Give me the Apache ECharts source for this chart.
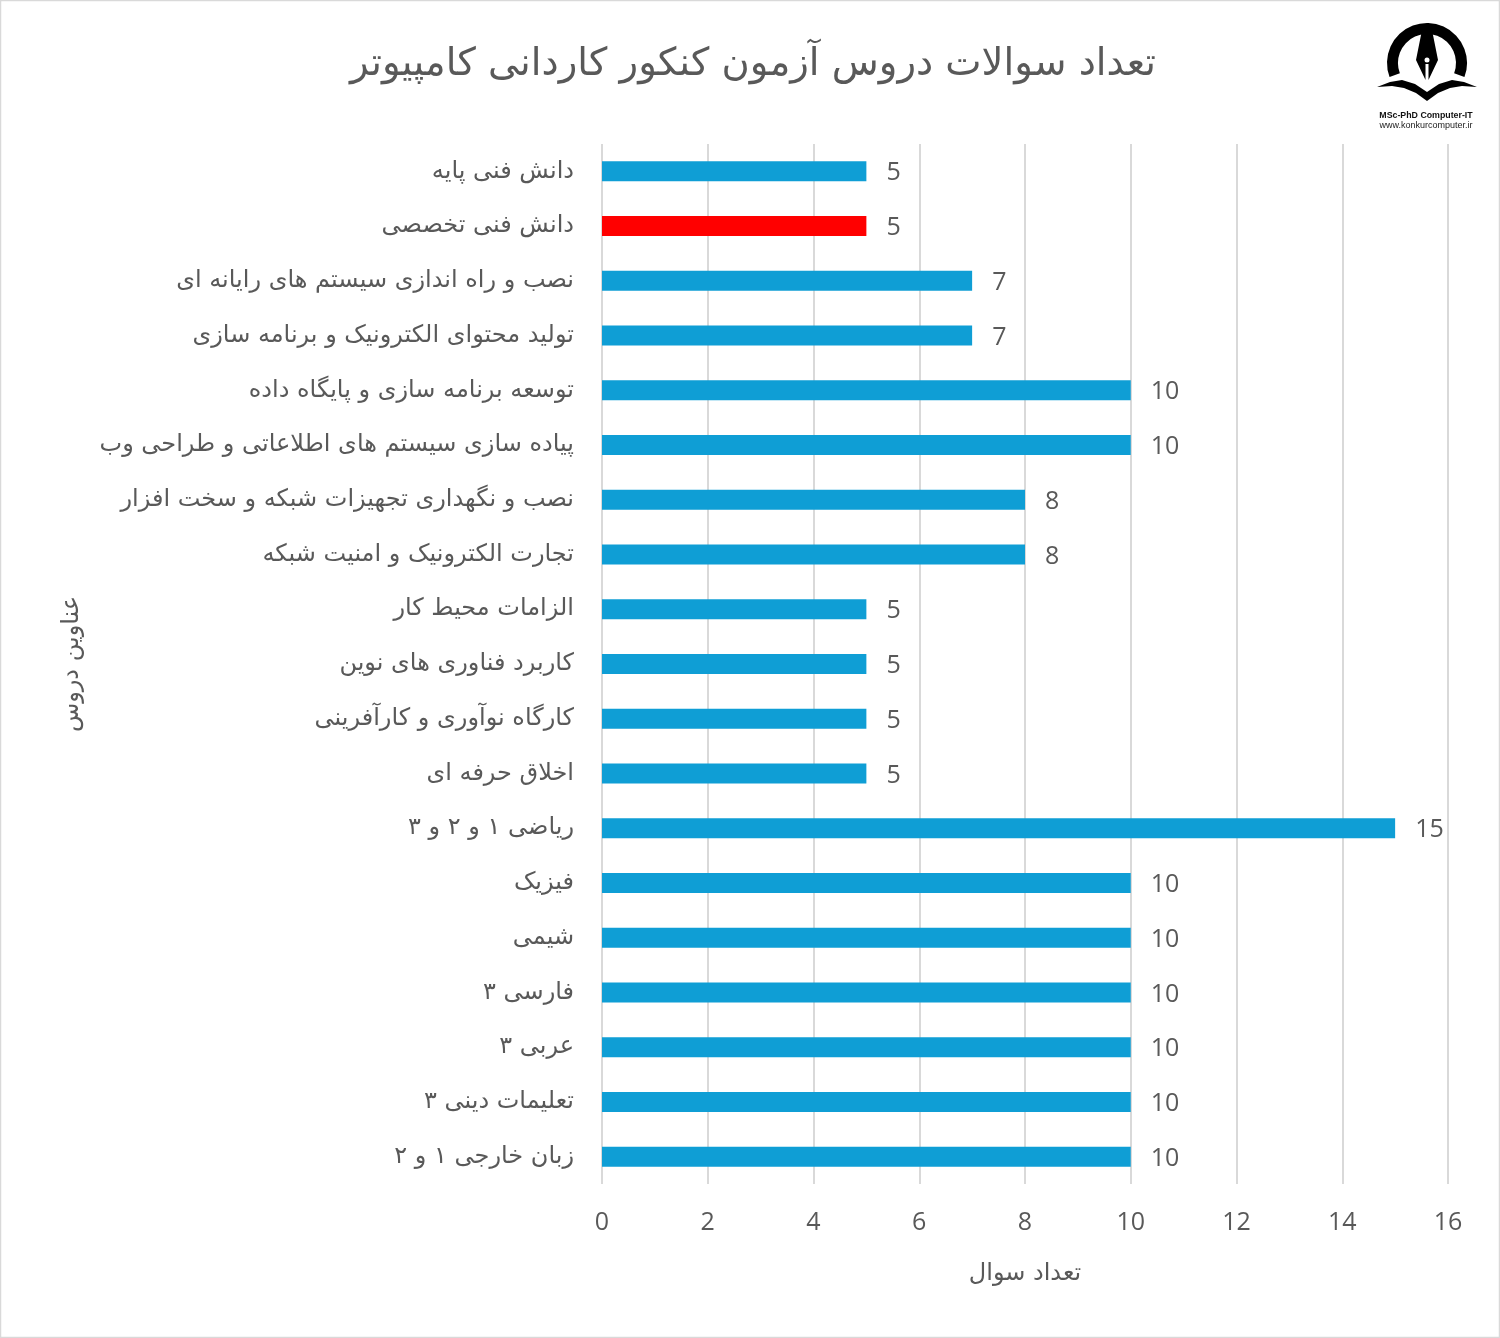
<!DOCTYPE html>
<html>
<head>
<meta charset="utf-8">
<style>
html, body { margin: 0; padding: 0; background: #fff; }
#chart { width: 1500px; height: 1338px; }
</style>
<script src="https://cdn.jsdelivr.net/npm/echarts@6/dist/echarts.min.js"></script>
</head>
<body>
<div id="chart"></div>
<script>
var categories = [
  'دانش فنی پایه', 'دانش فنی تخصصی', 'نصب و راه اندازی سیستم های رایانه ای',
  'تولید محتوای الکترونیک و برنامه سازی', 'توسعه برنامه سازی و پایگاه داده',
  'پیاده سازی سیستم های اطلاعاتی و طراحی وب', 'نصب و نگهداری تجهیزات شبکه و سخت افزار',
  'تجارت الکترونیک و امنیت شبکه', 'الزامات محیط کار', 'کاربرد فناوری های نوین',
  'کارگاه نوآوری و کارآفرینی', 'اخلاق حرفه ای', 'ریاضی ۱ و ۲ و ۳', 'فیزیک', 'شیمی',
  'فارسی ۳', 'عربی ۳', 'تعلیمات دینی ۳', 'زبان خارجی ۱ و ۲'
];
var values = [5, 5, 7, 7, 10, 10, 8, 8, 5, 5, 5, 5, 15, 10, 10, 10, 10, 10, 10];
var highlightIndex = 1;

var font = '"DejaVu Sans", sans-serif';
var latinFont = '"Open Sans", "Liberation Sans", sans-serif';
var grey = '#595959';

var chart = echarts.init(document.getElementById('chart'));
chart.setOption({
  backgroundColor: '#fff',
  animation: false,
  title: {
    text: 'تعداد سوالات دروس آزمون کنکور کاردانی کامپیوتر',
    left: 748, top: 60, textAlign: 'center', textVerticalAlign: 'middle',
    textStyle: { fontFamily: font, fontSize: 38.5, fontWeight: 'normal', color: grey }
  },
  grid: { left: 602, right: 52, top: 144, bottom: 154 },
  xAxis: {
    type: 'value', min: 0, max: 16, interval: 2,
    position: 'bottom',
    name: 'تعداد سوال', nameLocation: 'middle', nameGap: 78,
    nameTextStyle: { fontFamily: font, fontSize: 24, color: grey },
    axisLine: { show: false }, axisTick: { show: false },
    axisLabel: { fontFamily: latinFont, fontSize: 25, color: grey, margin: 26 },
    splitLine: { show: true, lineStyle: { color: '#d9d9d9', width: 2 } }
  },
  yAxis: {
    type: 'category', data: categories, inverse: true,
    name: 'عناوین دروس', nameLocation: 'middle', nameGap: 518, nameRotate: 90,
    nameTextStyle: { fontFamily: font, fontSize: 24, color: grey },
    axisLine: { show: false }, axisTick: { show: false },
    axisLabel: { fontFamily: font, fontSize: 24, color: grey, margin: 28, interval: 0 }
  },
  series: [{
    type: 'bar',
    data: values.map(function (v, i) {
      return { value: v, itemStyle: { color: i === highlightIndex ? '#ff0000' : '#0f9ed5' } };
    }),
    barWidth: 20,
    label: {
      show: true, position: 'right', distance: 20, offset: [0, 2],
      fontFamily: latinFont, fontSize: 25, color: grey
    }
  }],
  graphic: [
    { type: 'rect', silent: true, shape: { x: 0.5, y: 0.5, width: 1499, height: 1337 }, style: { fill: 'none', stroke: '#d9d9d9', lineWidth: 1.5 } },
    // logo: ring, nib, book
    { type: 'sector', silent: true, shape: { cx: 1427, cy: 63, r0: 29, r: 40, startAngle: Math.PI - 0.36, endAngle: 0.36, clockwise: true }, style: { fill: '#000' } },
    { type: 'polygon', silent: true, shape: { points: [[1422, 30], [1432, 30], [1438, 60], [1428.5, 80], [1428.5, 64], [1425.5, 64], [1425.5, 80], [1416, 60]] }, style: { fill: '#000' } },
    { type: 'circle', silent: true, shape: { cx: 1427, cy: 60, r: 2.5 }, style: { fill: '#fff' } },
    { type: 'polygon', silent: true, shape: { points: [[1377, 87], [1390, 82], [1402, 80], [1415, 84], [1427, 92], [1439, 84], [1452, 80], [1464, 82], [1477, 87], [1462, 86], [1450, 88], [1438, 93], [1427, 101], [1416, 93], [1404, 88], [1392, 86]] }, style: { fill: '#000' } },
    { type: 'text', silent: true, style: { text: 'MSc-PhD Computer-IT', x: 1426, y: 116, align: 'center', verticalAlign: 'middle', font: 'bold 8.8px "Liberation Sans", sans-serif', fill: '#111' } },
    { type: 'text', silent: true, style: { text: 'www.konkurcomputer.ir', x: 1426, y: 126, align: 'center', verticalAlign: 'middle', font: '9px "Liberation Sans", sans-serif', fill: '#222' } }
  ]
});
</script>
</body>
</html>
